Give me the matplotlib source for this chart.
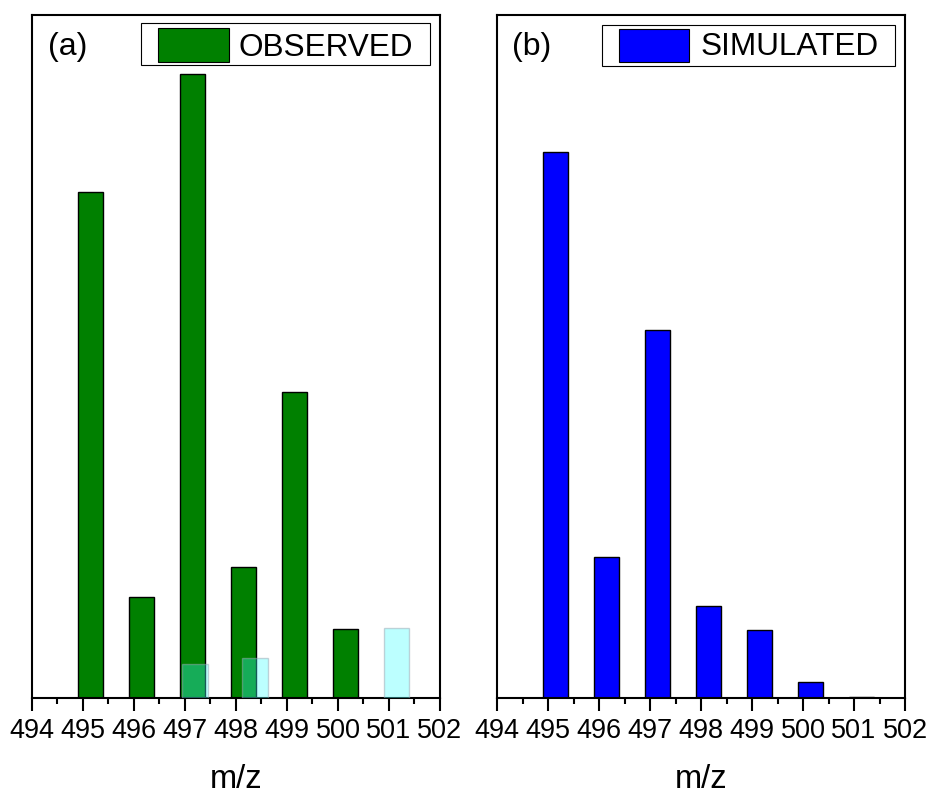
import matplotlib.pyplot as plt
from matplotlib.patches import Rectangle
from matplotlib.ticker import MultipleLocator

plt.rcParams['font.family'] = ['Liberation Sans', 'DejaVu Sans']

# observed isotope pattern (relative intensity, strongest peak = 100)
mz_obs = [495.15, 496.15, 497.15, 498.15, 499.15, 500.15]
int_obs = [81.2, 16.2, 100.0, 21.0, 49.0, 11.1]

# faint overlapping peaks in the observed spectrum
mz_faint = [497.2, 498.37, 501.15]
int_faint = [5.4, 6.4, 11.2]

# simulated isotope pattern
mz_sim = [495.15, 496.15, 497.15, 498.15, 499.15, 500.15, 501.15]
int_sim = [100.0, 25.8, 67.4, 16.8, 12.5, 2.9, 0.2]

tick_labels = ['494', '495', '496', '497', '498', '499', '500', '501', '502']

green = '#008000'
blue = '#0000FF'

fig = plt.figure(figsize=(9.32, 7.94), dpi=100)
ax_a = fig.add_axes([0.0343, 0.1209, 0.4378, 0.8602])
ax_b = fig.add_axes([0.5333, 0.1209, 0.4378, 0.8602])

bar_w = 0.5

ax_a.bar(mz_obs, int_obs, width=bar_w, color=green, edgecolor='black',
         linewidth=1.0, zorder=2)
ax_a.bar(mz_faint, int_faint, width=bar_w, color=(0.25, 1.0, 1.0, 0.35),
         edgecolor=(0.6, 0.65, 0.7, 0.5), linewidth=1.0, zorder=3)
ax_a.set_ylim(0, 109.5)

ax_b.bar(mz_sim, int_sim, width=bar_w, color=blue, edgecolor='black',
         linewidth=1.0, zorder=2)
ax_b.set_ylim(0, 125.1)


def legend_box(ax, frame, swatch, text_x, text_y, color, label):
    # hand-made legend: outer frame, colour swatch, label (axes fractions)
    fx0, fy0, fx1, fy1 = frame
    ax.add_patch(Rectangle((fx0, fy0), fx1 - fx0, fy1 - fy0,
                           transform=ax.transAxes, facecolor='white',
                           edgecolor='black', linewidth=0.8, zorder=5))
    sx0, sy0, sx1, sy1 = swatch
    ax.add_patch(Rectangle((sx0, sy0), sx1 - sx0, sy1 - sy0,
                           transform=ax.transAxes, facecolor=color,
                           edgecolor='black', linewidth=0.8, zorder=6))
    ax.text(text_x, text_y, label, transform=ax.transAxes, fontsize=22.7,
            ha='left', va='baseline', zorder=7)


legend_box(ax_a, (0.267, 0.927, 0.9755, 0.988), (0.309, 0.931, 0.483, 0.981),
           0.505, 0.940, green, 'OBSERVED')
legend_box(ax_b, (0.257, 0.925, 0.9755, 0.985), (0.2998, 0.931, 0.4706, 0.980),
           0.4975, 0.9414, blue, 'SIMULATED')

for ax, tag, tx in [(ax_a, '(a)', 0.040), (ax_b, '(b)', 0.037)]:
    ax.set_xlim(494, 502)
    ax.set_xticks(range(494, 503))
    ax.set_xticklabels(tick_labels)
    ax.xaxis.set_minor_locator(MultipleLocator(0.5))
    ax.tick_params(axis='x', which='major', direction='out', length=9.5,
                   width=1.5, labelsize=19.5, pad=5)
    ax.tick_params(axis='x', which='minor', direction='out', length=4.5,
                   width=1.5)
    ax.set_yticks([])
    for sp in ax.spines.values():
        sp.set_linewidth(1.5)
    ax.set_xlabel('m/z', fontsize=23.5, labelpad=14)
    ax.text(tx, 0.9414, tag, transform=ax.transAxes, fontsize=23,
            ha='left', va='baseline')

plt.savefig('out.png', dpi=100)
